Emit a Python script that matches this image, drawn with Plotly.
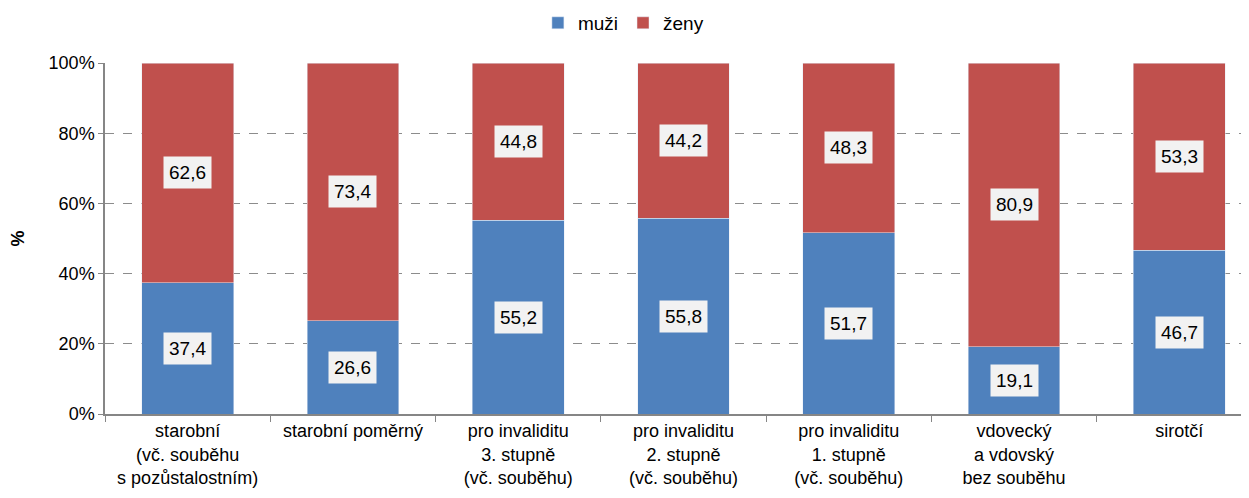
import plotly.graph_objects as go

categories = [
    "starobní<br>(vč. souběhu<br>s pozůstalostním)",
    "starobní poměrný",
    "pro invaliditu<br>3. stupně<br>(vč. souběhu)",
    "pro invaliditu<br>2. stupně<br>(vč. souběhu)",
    "pro invaliditu<br>1. stupně<br>(vč. souběhu)",
    "vdovecký<br>a vdovský<br>bez souběhu",
    "sirotčí",
]
muzi = [37.4, 26.6, 55.2, 55.8, 51.7, 19.1, 46.7]
zeny = [62.6, 73.4, 44.8, 44.2, 48.3, 80.9, 53.3]

BLUE = "#4f81bd"
RED = "#c0504d"
FONT = "Liberation Sans, Arial, sans-serif"

fig = go.Figure()
fig.add_trace(go.Bar(x=categories, y=muzi, name="muži", marker_color=BLUE))
fig.add_trace(go.Bar(x=categories, y=zeny, name="ženy", marker_color=RED))

# popisky hodnot v šedých rámečcích uprostřed segmentů
for c, m, z in zip(categories, muzi, zeny):
    for val, mid in ((m, m / 2), (z, m + z / 2)):
        fig.add_annotation(
            x=c, y=mid, text=f"{val:.1f}".replace(".", ","),
            showarrow=False, bgcolor="#f2f2f2", bordercolor="rgba(0,0,0,0)",
            borderpad=5, font=dict(size=19, color="#000", family=FONT),
        )

fig.update_layout(
    barmode="stack",
    bargap=0.445,
    width=1249, height=498,
    margin=dict(l=97, r=0, t=55, b=92, autoexpand=False),
    plot_bgcolor="white", paper_bgcolor="white",
    font=dict(family=FONT, size=18, color="#000"),
    legend=dict(orientation="h", x=0.45, xanchor="center", y=1.06, yanchor="bottom",
                font=dict(size=19), traceorder="normal", itemwidth=30,
                tracegroupgap=0),
    showlegend=True,
)
# graf v originále přesahuje pravý okraj obrázku
fig.update_xaxes(
    range=[-0.5, 6.47],
    showline=True, linecolor="#868686", linewidth=1.5,
    ticks="outside", tickson="boundaries", ticklen=6, tickcolor="#868686",
    tickfont=dict(size=18),
)
fig.update_yaxes(
    range=[0, 100], dtick=20, ticksuffix="%",
    showline=True, linecolor="#868686", linewidth=1.5,
    ticks="outside", ticklen=5, tickcolor="#868686",
    showgrid=True, gridcolor="#8c8c8c", griddash="dash", gridwidth=1,
    zeroline=False, tickfont=dict(size=18),
    title=dict(text="<b>%</b>", font=dict(size=18), standoff=28),
)

fig.write_html("out.html")
